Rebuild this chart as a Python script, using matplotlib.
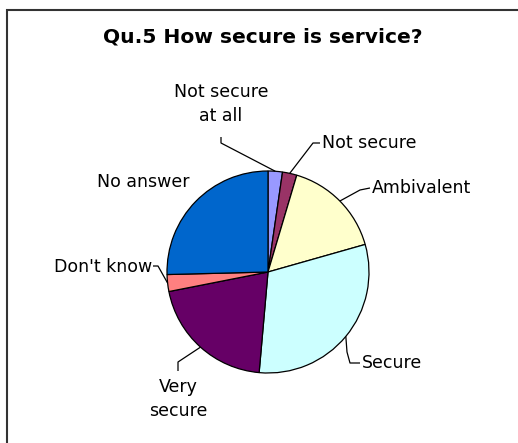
import numpy as np
import matplotlib
matplotlib.use("Agg")
import matplotlib.pyplot as plt
from matplotlib.patches import Rectangle

# ---- data ----
categories = ["Not secure at all", "Not secure", "Ambivalent", "Secure",
              "Very secure", "Don't know", "No answer"]
label_texts = ["Not secure\nat all", "Not secure", "Ambivalent", "Secure",
               "Very\nsecure", "Don't know", "No answer"]
values = [2.3, 2.3, 16.0, 30.8, 20.5, 2.7, 25.4]
colors = ["#9999FF", "#993366", "#FFFFCC", "#CCFFFF", "#660066", "#FF8080", "#0066CC"]
title = "Qu.5 How secure is service?"

# ---- layout (pixels) ----
W, H = 518, 443
CX, CY, R = 268, 272, 101

fig = plt.figure(figsize=(W / 100, H / 100), dpi=100)
ax = fig.add_axes([0, 0, 1, 1])

def P(px, py):
    return ((px - CX) / R, (CY - py) / R)

wedges, _ = ax.pie(values, colors=colors, startangle=90, counterclock=False,
                   wedgeprops=dict(edgecolor="black", linewidth=0.9))
ax.set_aspect("auto")
ax.set_xlim(-CX / R, (W - CX) / R)
ax.set_ylim(-(H - CY) / R, CY / R)
ax.axis("off")

# frame
fx0, fy0 = P(7, 10)
fx1, fy1 = P(W + 5, H + 5)
ax.add_patch(Rectangle((fx0, fy1), fx1 - fx0, fy0 - fy1, fill=False,
                       edgecolor="#333333", linewidth=1.5, clip_on=False))

# title
tx, ty = P(263, 37)
ax.text(tx, ty, title, ha="center", va="center", fontsize=14.6,
        fontweight="bold", family="DejaVu Sans", color="black")

# wedge mid points on the rim
cum = np.cumsum([0] + values)
total = sum(values)
mids = []
for i in range(len(values)):
    a = 90 - 360 * (cum[i] + values[i] / 2) / total
    mids.append((np.cos(np.radians(a)), np.sin(np.radians(a))))

# label placement: (text pos px, ha, elbow points px)
place = [
    ((221, 104), "center", [(221, 137), (221, 143)]),
    ((322, 143), "left", [(320, 143), (313, 143)]),
    ((372, 188), "left", [(370, 188), (360, 190)]),
    ((362, 363), "left", [(360, 363), (350, 363), (347, 352)]),
    ((178, 399), "center", [(178, 371), (178, 362)]),
    ((152, 267), "right", [(153, 266), (158, 266)]),
    ((143, 182), "center", []),
]

fs = 12.5
for i, (pos, ha, elbow) in enumerate(place):
    x, y = P(*pos)
    ax.text(x, y, label_texts[i], ha=ha, va="center", multialignment="center",
            fontsize=fs, family="DejaVu Sans", linespacing=1.45, color="black")
    if elbow:
        pts = [P(*e) for e in elbow] + [mids[i]]
        xs, ys = zip(*pts)
        ax.plot(xs, ys, color="black", linewidth=0.9, solid_capstyle="butt")

fig.savefig("out.png", dpi=100, facecolor="white")
